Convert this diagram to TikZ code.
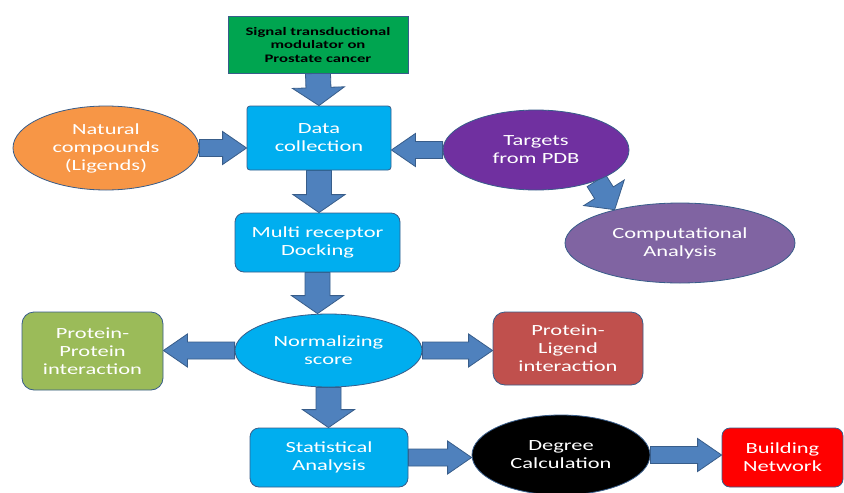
\documentclass[tikz,border=0pt]{standalone}
\usepackage{fontspec}
\setmainfont{Carlito}[FakeStretch=1.45]
\usetikzlibrary{shapes.geometric, calc, backgrounds}
\definecolor{edge-blue}{HTML}{385D8A}
\definecolor{arrow-blue}{HTML}{4F81BD}
\definecolor{step-blue}{HTML}{00AEEF}
\definecolor{sig-green}{HTML}{00A550}
\definecolor{lig-orange}{HTML}{F79646}
\definecolor{pdb-purple}{HTML}{7030A0}
\definecolor{comp-purple}{HTML}{8064A2}
\definecolor{ppi-green}{HTML}{9BBB59}
\definecolor{pl-red}{HTML}{C0504D}
\definecolor{net-red}{HTML}{FF0000}

\begin{document}
\begin{tikzpicture}[x=1pt, y=-1pt,
          every node/.style={font=\fontsize{15.5}{18}\selectfont, text=white, align=center},
          stepbox/.style={draw=edge-blue, line width=0.8pt, inner sep=2pt},
          stepoval/.style={stepbox, ellipse},
          blockarrow/.style n args={3}{draw=edge-blue, fill=arrow-blue, line width=0.8pt,
            to path={let \p1=($(\tikztotarget)!#3!(\tikztostart)$) in
              ($(\tikztostart)!#1!90:(\tikztotarget)$) -- ($(\p1)!#1!90:(\tikztotarget)$)
              -- ($(\p1)!#2!90:(\tikztotarget)$) -- (\tikztotarget)
              -- ($(\p1)!#2!-90:(\tikztotarget)$) -- ($(\p1)!#1!-90:(\tikztotarget)$)
              -- ($(\tikztostart)!#1!-90:(\tikztotarget)$) -- cycle}},
          harrow/.style={blockarrow={8.5pt}{16.5pt}{24pt}},
          varrow/.style={blockarrow={12.5pt}{26pt}{18pt}}]
        % Flow: prostate cancer modulator -> data collection (fed by ligands
        % and PDB targets) -> docking -> normalizing -> statistics -> network.
        % Coordinates in pixels of the 844x493 frame, y pointing down.
        \useasboundingbox (0,0) rectangle (844,493);
        \node[stepbox, fill=sig-green, minimum width=180pt, minimum height=57pt,
              text=black, font=\fontsize{11.5}{13.5}\selectfont\bfseries]
              (SIG) at (318,44.5) {Signal transductional\\modulator on\\Prostate cancer};
        \node[stepbox, fill=step-blue, rounded corners=3pt, minimum width=144pt,
              minimum height=64pt] (DATA) at (319,138) {Data\\collection};
        \node[stepoval, fill=lig-orange, minimum width=186pt, minimum height=84pt]
              (LIG) at (106,148) {Natural\\compounds\\(Ligends)};
        \node[stepoval, fill=pdb-purple, minimum width=186pt, minimum height=80pt]
              (PDB) at (536,150) {Targets\\from PDB};
        \node[stepoval, fill=comp-purple, minimum width=230pt, minimum height=80pt]
              (COMP) at (680,243) {Computational\\Analysis};
        \node[stepbox, fill=step-blue, rounded corners=9pt, minimum width=165pt,
              minimum height=59pt] (DOCK) at (317.5,242.5) {Multi receptor\\Docking};
        \node[stepoval, fill=step-blue, minimum width=187pt, minimum height=73pt]
              (NORM) at (328.5,350.5) {Normalizing\\score};
        \node[stepbox, fill=ppi-green, rounded corners=12pt, minimum width=141pt,
              minimum height=78pt] (PPI) at (92.5,351) {Protein-\\Protein\\interaction};
        \node[stepbox, fill=pl-red, rounded corners=12pt, minimum width=150pt,
              minimum height=73pt] (PL) at (568,348.5) {Protein-\\Ligend\\interaction};
        \node[stepbox, fill=step-blue, rounded corners=9pt, minimum width=158pt,
              minimum height=59pt] (STAT) at (329,457.5) {Statistical\\Analysis};
        \node[stepoval, fill=black, minimum width=178pt, minimum height=80pt]
              (DEG) at (561,455) {Degree\\Calculation};
        \node[stepbox, fill=net-red, rounded corners=8pt, minimum width=121pt,
              minimum height=59pt] (NET) at (782.5,457.5) {Building\\Network};
        \begin{pgfonlayer}{background}
          \fill[white] (0,0) rectangle (844,493);
          \draw[varrow] (SIG.south) to (DATA.north);
          \draw[harrow] (LIG.east) to (LIG.east -| DATA.west);
          \draw[harrow] (PDB.west) to (PDB.west -| DATA.east);
          \draw[blockarrow={11pt}{24pt}{20pt}] (PDB.-27) to (COMP.153);
          \draw[varrow] (DATA.south) to (DATA.south |- DOCK.north);
          \draw[varrow] (DOCK.south) to (DOCK.south |- NORM.north);
          \draw[harrow] (NORM.west) to (NORM.west -| PPI.east);
          \draw[harrow] (NORM.east) to (NORM.east -| PL.west);
          \draw[varrow] (NORM.south) to (NORM.south |- STAT.north);
          \draw[harrow] (STAT.east) to (STAT.east -| DEG.west);
          \draw[harrow] (DEG.east) to (DEG.east -| NET.west);
        \end{pgfonlayer}
      \end{tikzpicture}
\end{document}
